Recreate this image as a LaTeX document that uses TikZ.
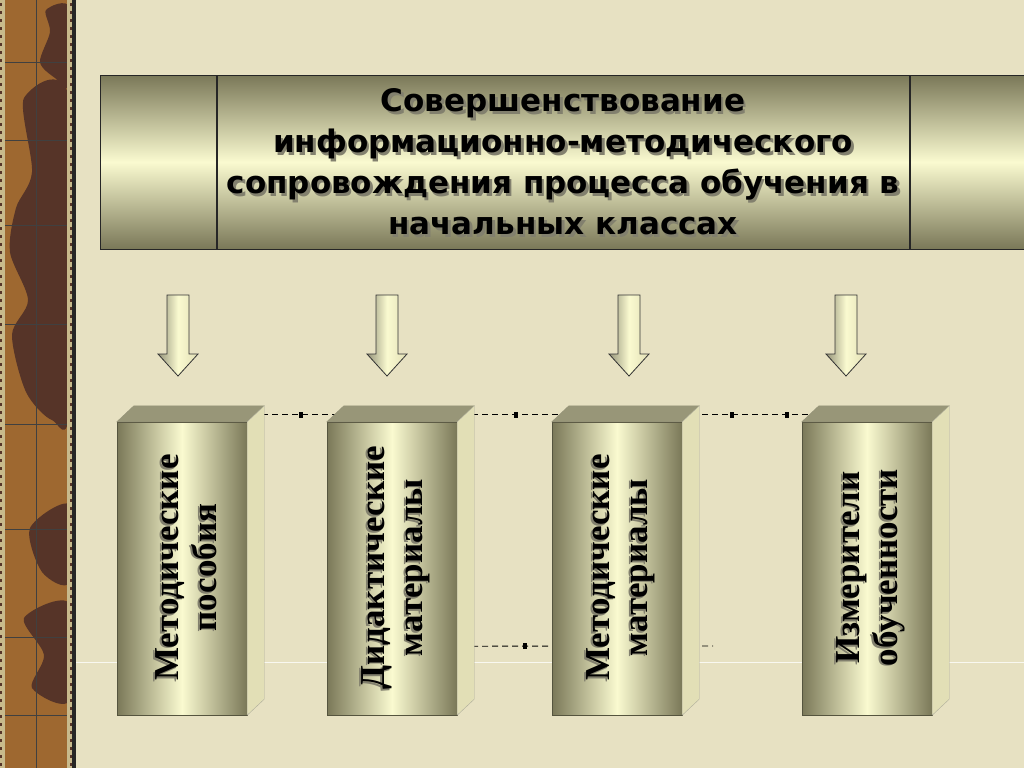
\documentclass[tikz,border=0pt]{standalone}
\usepackage{fontspec}
\setmainfont{Liberation Serif}
\newfontfamily\titlefont{DejaVu Sans}
\usepackage{tikz}
\usetikzlibrary{positioning,calc,backgrounds}

\definecolor{paper}{RGB}{231,225,194}
\definecolor{olive}{RGB}{122,120,88}
\definecolor{cream}{RGB}{250,250,208}
\definecolor{topface}{RGB}{152,150,120}
\definecolor{sideface}{RGB}{226,223,182}
\definecolor{bark}{RGB}{158,104,48}
\definecolor{barkdark}{RGB}{86,52,40}
\definecolor{tan}{RGB}{200,186,140}
\definecolor{shade}{RGB}{130,128,110}

% text with a grey drop shadow
\newcommand\dropshadow[1]{\leavevmode\rlap{\kern2.5pt\raisebox{-2.5pt}[0pt][0pt]{\textcolor{shade}{#1}}}#1}
\newcommand\sideshadow[1]{\leavevmode\rlap{\kern-1.5pt\raisebox{2pt}[0pt][0pt]{\textcolor{shade}{#1}}}#1}

\begin{document}
\begin{tikzpicture}[x=1pt,y=-1pt,
  panel/.style={draw=black!85,line width=1pt,top color=olive,bottom color=olive,middle color=cream,minimum height=174pt,inner sep=0pt},
  headtext/.style={align=center,font=\titlefont\bfseries\fontsize{31}{41}\selectfont},
  face/.style={draw=olive!70!black,line width=.4pt,left color=olive,right color=olive,middle color=cream,minimum width=130pt,minimum height=293pt,inner sep=0pt},
  blocktext/.style={rotate=90,align=center,font=\bfseries\fontsize{35}{38}\selectfont},
  link/.style={draw=black,line width=.8pt,dash pattern=on 6pt off 4pt},
  sqmark/.style={fill=black,inner sep=0pt,minimum width=4pt,minimum height=6pt},
  blockarrow/.style={draw=black!80,line width=.8pt,left color=olive!80,right color=sideface,middle color=cream}]
\useasboundingbox (0,0) rectangle (1024,768);
\begin{scope}[on background layer]
\fill[paper] (0,0) rectangle (1024,768);
\draw[white!75!paper,line width=1pt] (76,662) -- (1024,662);
\end{scope}
% strip
\fill[bark] (0,0) rectangle (74,768);
\fill[barkdark] plot[smooth cycle] coordinates {(46,10) (70,8) (70,85) (55,78) (40,62) (50,32)};
\fill[barkdark] plot[smooth cycle] coordinates {(24,98) (70,102) (70,405) (52,420) (26,392) (12,335) (28,300) (10,252) (16,208) (32,172)};
\fill[barkdark] plot[smooth cycle] coordinates {(30,528) (70,505) (70,582) (42,572)};
\fill[barkdark] plot[smooth cycle] coordinates {(24,618) (70,604) (70,700) (32,688) (44,655)};
\fill[tan] (0,0) rectangle (5,768);
\fill[tan] (67,0) rectangle (72,768);
\foreach \y in {3,11,...,763} {
  \fill[barkdark] (0,\y) rectangle (2,\y+3);
  \fill[barkdark] (70,\y) rectangle (72,\y+3);
}
\draw[black!75,line width=1pt] (36,0) -- (36,768);
\foreach \y in {62,140,225,324,424,529,637,715}
  \draw[black!75,line width=1pt] (5,\y) -- (67,\y);
\fill[black!85] (72,0) rectangle (76,768);
% title
\node[panel,minimum width=692pt] (title) at (563,162) {};
\node[panel,minimum width=116pt,left=0pt of title] (titleleft) {};
\node[panel,minimum width=115pt,right=0pt of title] (titleright) {};
\node[headtext] (head) at (title.center) {\dropshadow{Совершенствование}\\\dropshadow{информационно-методического}\\\dropshadow{сопровождения процесса обучения в}\\\dropshadow{начальных классах}};
% arrows
\foreach \x in {178,387,629,846}
  \draw[blockarrow] (\x-11,295) -- (\x+11,295) -- (\x+11,354) -- (\x+20,354) -- (\x,376) -- (\x-20,354) -- (\x-11,354) -- cycle;
% blocks
\foreach \i/\x/\first/\second in {1/182/Методические/пособия,2/392/Дидактические/материалы,3/617/Методические/материалы,4/867/Измерители/обученности} {
  \node[face] (b\i) at (\x,568.5) {};
  \filldraw[topface,draw=olive!80] (b\i.north west) -- ++(17,-16) -- ($(b\i.north east)+(17,-16)$) -- (b\i.north east) -- cycle;
  \filldraw[sideface,draw=olive!60] (b\i.north east) -- ++(17,-16) -- ($(b\i.south east)+(17,-16)$) -- (b\i.south east) -- cycle;
  \node[blocktext] (txt\i) at ($(b\i.center)+(4,-1)$) {\sideshadow{\first}\\\sideshadow{\second}};
}
% links behind the blocks
\begin{scope}[on background layer]
\draw[link] ($(b1.north)+(0,-7)$) -- node[sqmark,pos=.567] (m1) {} ($(b2.north)+(0,-7)$)
  -- node[sqmark,pos=.551] (m2) {} ($(b3.north)+(0,-7)$)
  -- node[sqmark,pos=.46] (m3) {} node[sqmark,pos=.68] (m4) {} ($(b4.north)+(0,-7)$);
\coordinate (stub) at (713,646);
\draw[link] ($(b2.south)+(0,-69)$) -- node[sqmark,pos=.414] (m5) {} (stub);
\end{scope}
\end{tikzpicture}
\end{document}
